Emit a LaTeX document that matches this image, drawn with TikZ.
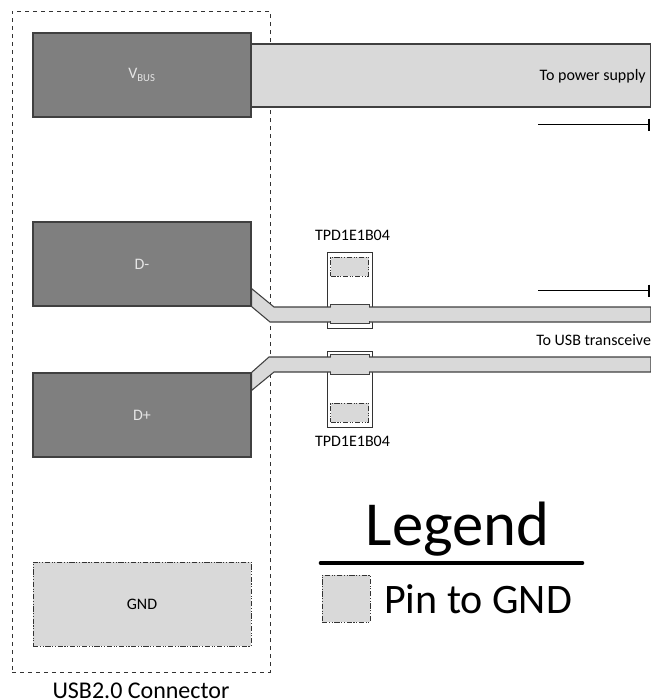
\documentclass[tikz,border=0pt]{standalone}
\usepackage{fontspec}
\setmainfont{Carlito}
\usepackage{tikz}
\usetikzlibrary{arrows.meta, positioning, calc}
\definecolor{padgray}{HTML}{D9D9D9}
\definecolor{pingray}{HTML}{7F7F7F}
\definecolor{edgegray}{HTML}{404040}

\begin{document}
\begin{tikzpicture}[
      x=0.75pt, y=-0.75pt,
      pinbox/.style={draw=edgegray, line width=0.8pt, fill=pingray, inner sep=0pt, minimum width=163.5pt, minimum height=63pt, text=white!90!black, font=\fontsize{12}{14}\selectfont},
      gndpad/.style={draw=black!80, line width=0.6pt, fill=padgray, inner sep=0pt, dash pattern=on 4pt off 1.2pt on 0.8pt off 1.2pt on 0.8pt off 1.2pt},
      trace/.style={draw=edgegray, line width=0.8pt, fill=padgray},
      chip/.style={draw=black!80, line width=0.7pt, fill=white, inner sep=0pt, minimum width=33.75pt},
      signalpad/.style={fill=padgray, inner sep=0pt, minimum width=28.5pt, minimum height=14.5pt},
      smalltext/.style={font=\fontsize{12}{14}\selectfont, inner sep=0pt},
      direction/.style={-{Bar[width=9pt]}, line width=1.3pt, black}
    ]
      \useasboundingbox (0, 0) rectangle (650, 700);

      % Connector outline
      \node[draw=black!80, line width=0.6pt, dashed, inner sep=0pt, minimum width=193.5pt, minimum height=495.75pt] (connector) at (141, 341.5) {};
      \node[anchor=north, font=\fontsize{18}{22}\selectfont, inner sep=0pt] (connectorlabel) at ([yshift=-8pt]connector.south) {USB2.0 Connector};

      % Connector pins
      \node[pinbox] (vbus) at (142, 75) {V\textsubscript{BUS}};
      \node[pinbox] (dminus) at (142, 264) {D-};
      \node[pinbox] (dplus) at (142, 415) {D+};
      \node[gndpad, minimum width=163.5pt, minimum height=63pt, font=\fontsize{12}{14}\selectfont] (gnd) at (142, 604) {GND};

      % Right ends of the traces
      \coordinate (vbusend) at (651, 44);
      \coordinate (minusend) at (651, 307);
      \coordinate (plusend) at (651, 357);

      % TVS chips, below the traces
      \node[chip, minimum height=57pt] (chipminus) at (349.5, 290) {};
      \node[chip, minimum height=57pt] (chipplus) at (349.5, 389) {};
      \node[gndpad, minimum width=28.5pt, minimum height=14.25pt] (gndminus) at (349.5, 266.5) {};
      \node[gndpad, minimum width=28.5pt, minimum height=14.25pt] (gndplus) at (349.5, 412.5) {};
      \node[smalltext, above=8pt of chipminus, xshift=2.25pt] (labelminus) {TPD1E1B04};
      \node[smalltext, below=6pt of chipplus, xshift=2.25pt] (labelplus) {TPD1E1B04};

      % Traces
      \draw[trace] (vbus.east |- vbusend) -- (vbusend) -- (vbusend |- 0, 107) -- (vbus.east |- 0, 107) -- cycle;
      \draw[trace] ([yshift=13.5pt]dminus.south east) -- (274, 307) -- (minusend) -- (minusend |- 0, 322) -- (270, 322) -- (dminus.south east) -- cycle;
      \draw[trace] (dplus.north east) -- (269, 357) -- (plusend) -- (plusend |- 0, 372) -- (274, 372) -- ([yshift=-13.5pt]dplus.north east) -- cycle;

      % Pads on the traces
      \node[signalpad] (padminus) at (350, 314) {};
      \node[signalpad] (padplus) at (350, 364.5) {};
      \foreach \pad in {padminus, padplus} {
        \draw[edgegray, line width=0.8pt] ([yshift=-2pt]\pad.north west) -- (\pad.north west) -- (\pad.north east) -- ([yshift=-2pt]\pad.north east);
        \draw[edgegray, line width=0.8pt] ([yshift=2pt]\pad.south west) -- (\pad.south west) -- (\pad.south east) -- ([yshift=2pt]\pad.south east);
      }

      % Trace labels
      \node[smalltext, anchor=east] (powerlabel) at (646, 76) {To power supply};
      \node[smalltext, anchor=west] (usblabel) at (536, 340) {To USB transceive};

      % Direction arrows
      \coordinate (powerstart) at (538, 124.5);
      \coordinate (powerstop) at (650, 124.5);
      \coordinate (usbstart) at (538, 290.5);
      \coordinate (usbstop) at (650, 290.5);
      \draw[direction] (powerstart) -- (powerstop);
      \draw[direction] (usbstart) -- (usbstop);

      % Legend
      \node[font=\fontsize{47}{52}\selectfont, inner sep=0pt, anchor=base] (legend) at (457.5, 545) {Legend};
      \coordinate (rulestart) at (321, 563);
      \coordinate (rulestop) at (582, 563);
      \draw[line width=3.5pt, line cap=round] (rulestart) -- (rulestop);
      \node[gndpad, minimum width=36pt, minimum height=35.25pt] (swatch) at (346, 598.5) {};
      \node[font=\fontsize{31.5}{38}\selectfont, inner sep=0pt, anchor=base west] (swatchlabel) at (384, 613) {Pin to GND};

    \end{tikzpicture}
\end{document}
